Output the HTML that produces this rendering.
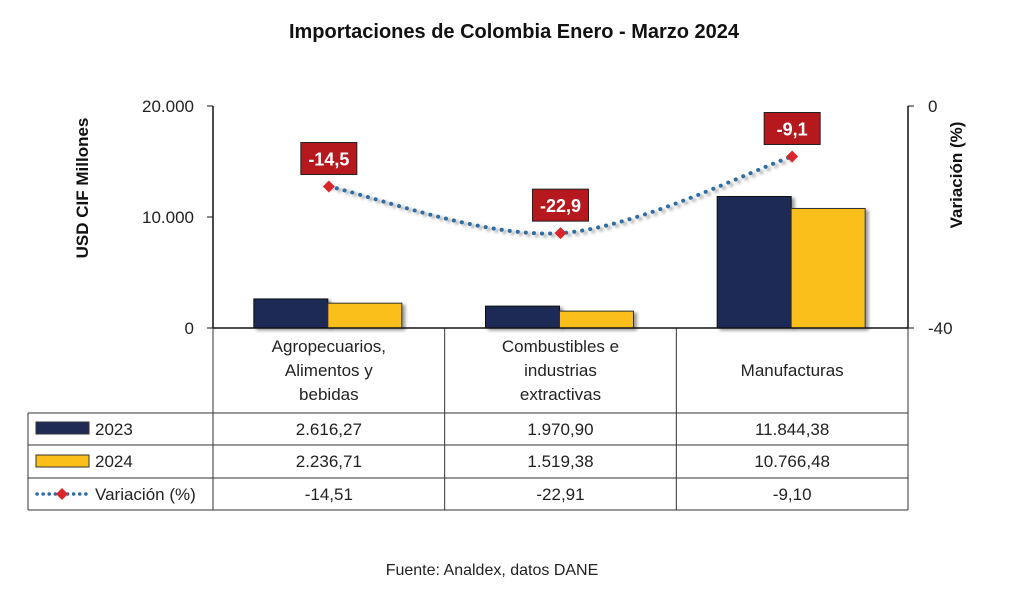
<!DOCTYPE html>
<html><head><meta charset="utf-8"><style>
body{margin:0;background:#fff;width:1013px;height:601px;overflow:hidden}
svg{font-family:"Liberation Sans",sans-serif}
</style></head><body>
<svg id="c" width="1013" height="601" viewBox="0 0 1013 601">
<text x="514" y="38" text-anchor="middle" font-size="20" font-weight="bold" fill="#111">Importaciones de Colombia Enero - Marzo 2024</text>
<text transform="translate(88,188) rotate(-90)" text-anchor="middle" font-size="17" font-weight="bold" fill="#111">USD CIF Millones</text>
<text transform="translate(962,175) rotate(-90)" text-anchor="middle" font-size="17" font-weight="bold" fill="#111">Variación (%)</text>
<text x="492" y="575" text-anchor="middle" font-size="16" fill="#222">Fuente: Analdex, datos DANE</text>
<g id="g"></g>
</svg>
<script>
const categories=[["Agropecuarios,","Alimentos y","bebidas"],["Combustibles e","industrias","extractivas"],["Manufacturas"]];
const v2023=[2616.27,1970.90,11844.38];
const v2024=[2236.71,1519.38,10766.48];
const variacion=[-14.51,-22.91,-9.10];
const t2023=["2.616,27","1.970,90","11.844,38"];
const t2024=["2.236,71","1.519,38","10.766,48"];
const tVar=["-14,51","-22,91","-9,10"];
const tLab=["-14,5","-22,9","-9,1"];
const leftTicks=[0,10000,20000];const leftTickLabels=["0","10.000","20.000"];
const rightTicks=[0,-40];const rightTickLabels=["0","-40"];
const NS="http://www.w3.org/2000/svg",g=document.getElementById('g');
function el(t,a,p){const e=document.createElementNS(NS,t);for(const k in a)e.setAttribute(k,a[k]);(p||g).appendChild(e);return e;}
const X0=213,X1=908,Y0=328,Y1=106,cw=(X1-X0)/3;
const y=v=>Y0-(v/20000)*(Y0-Y1);
const y2=v=>Y1+(-v/40)*(Y0-Y1);
const cx=i=>X0+cw*(i+0.5);
const defs=el('defs',{});
const f=el('filter',{id:'sh',x:'-20%',y:'-20%',width:'150%',height:'150%'},defs);
el('feDropShadow',{dx:'3',dy:'2',stdDeviation:'1.5','flood-color':'#000','flood-opacity':'0.4'},f);
let e=el('line',{x1:X0,y1:Y1,x2:X0,y2:Y0,stroke:'#111','stroke-width':1.5});
e=el('line',{x1:X1,y1:Y1,x2:X1,y2:Y0,stroke:'#111','stroke-width':1.5});
leftTicks.forEach((t,i)=>{el('line',{x1:X0-6,x2:X0,y1:y(t),y2:y(t),stroke:'#111'});
 e=el('text',{x:X0-19,y:y(t)+6,'text-anchor':'end','font-size':17,fill:'#222'});e.textContent=leftTickLabels[i];
 });
rightTicks.forEach((t,i)=>{el('line',{x1:X1,x2:X1+6,y1:y2(t),y2:y2(t),stroke:'#111'});
 e=el('text',{x:X1+20,y:y2(t)+6,'font-size':17,fill:'#222'});e.textContent=rightTickLabels[i];
 });
const bw=74;
for(let i=0;i<3;i++){
 e=el('rect',{x:cx(i)-bw-1,y:y(v2023[i]),width:bw,height:Y0-y(v2023[i]),fill:'#1f2a55',stroke:'#111','stroke-width':1,filter:'url(#sh)'});
 
 e=el('rect',{x:cx(i)-1,y:y(v2024[i]),width:bw,height:Y0-y(v2024[i]),fill:'#fbbf1a',stroke:'#333','stroke-width':1,filter:'url(#sh)'});
 
}
el('line',{x1:X0,x2:X0,y1:Y0,y2:510,stroke:'#333'});
[1,2].forEach(k=>el('line',{x1:X0+cw*k,x2:X0+cw*k,y1:Y0,y2:510,stroke:'#333'}));
el('line',{x1:X1,x2:X1,y1:Y0,y2:510,stroke:'#333'});
el('line',{x1:X0,x2:X1,y1:Y0,y2:Y0,stroke:'#111','stroke-width':1.5});
[413,445,478,510].forEach(r=>el('line',{x1:28,x2:X1,y1:r,y2:r,stroke:'#333'}));
el('line',{x1:28,x2:28,y1:413,y2:510,stroke:'#333'});
for(let i=0;i<3;i++){
 const L=categories[i],n=L.length,st=370-(n-1)*12;
 L.forEach((s,j)=>{e=el('text',{x:cx(i),y:st+j*24+6,'text-anchor':'middle','font-size':17,fill:'#222'});e.textContent=s;
  });
 [[t2023,435],[t2024,467],[tVar,500]].forEach(([a,yy])=>{e=el('text',{x:cx(i),y:yy,'text-anchor':'middle','font-size':17,fill:'#222'});e.textContent=a[i];
  });
}
e=el('rect',{x:36,y:422,width:53,height:12,fill:'#1f2a55',stroke:'#333'});
e=el('rect',{x:36,y:455,width:53,height:12,fill:'#fbbf1a',stroke:'#333'});
el('line',{x1:37,x2:89,y1:494,y2:494,stroke:'#2e6da4','stroke-width':3.5,'stroke-dasharray':'0.1 6','stroke-linecap':'round'});
el('path',{d:'M62,488 L68,494 L62,500 L56,494Z',fill:'#d9262b'});
[['2023',435],['2024',467],['Variación (%)',500]].forEach(([s,yy])=>{e=el('text',{x:95,y:yy,'font-size':17,fill:'#222'});e.textContent=s;
 });
const P=variacion.map((v,i)=>[cx(i),y2(v)]);
let d=`M${P[0][0]},${P[0][1]}`;
for(let i=0;i<P.length-1;i++){const p0=P[Math.max(0,i-1)],p1=P[i],p2=P[i+1],p3=P[Math.min(P.length-1,i+2)];
 d+=` C${p1[0]+(p2[0]-p0[0])/6},${p1[1]+(p2[1]-p0[1])/6} ${p2[0]-(p3[0]-p1[0])/6},${p2[1]-(p3[1]-p1[1])/6} ${p2[0]},${p2[1]}`;}
e=el('path',{d:d,fill:'none',stroke:'#2e6da4','stroke-width':4,'stroke-dasharray':'0.1 8','stroke-linecap':'round',filter:'url(#sh)'});

P.forEach((p,i)=>{e=el('path',{d:`M${p[0]},${p[1]-6} L${p[0]+6},${p[1]} L${p[0]},${p[1]+6} L${p[0]-6},${p[1]}Z`,fill:'#d9262b'});
 
 e=el('rect',{x:p[0]-28,y:p[1]-44,width:56,height:32,fill:'#b5191d',stroke:'#222','stroke-width':1});
 
 e=el('text',{x:p[0],y:p[1]-21,'text-anchor':'middle','font-size':18,'font-weight':'bold',fill:'#fff'});e.textContent=tLab[i];
 });
</script>
</body></html>
